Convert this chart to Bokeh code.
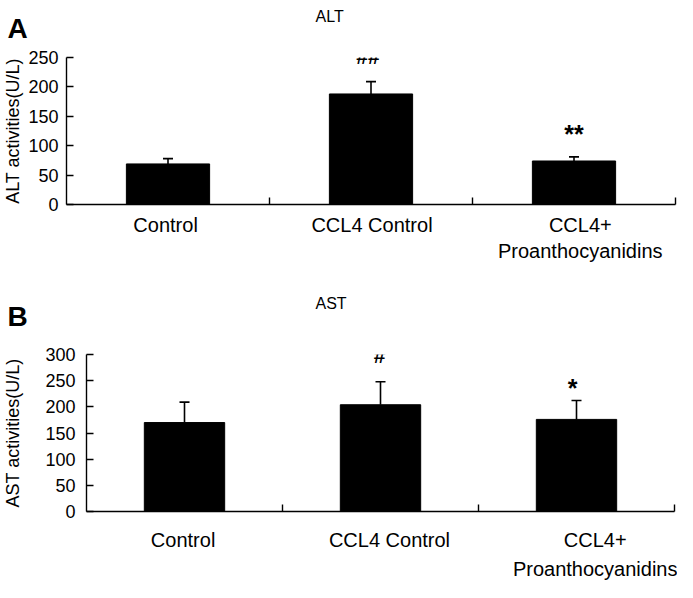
from bokeh.plotting import figure
from bokeh.models import (ColumnDataSource, Range1d, FixedTicker, Whisker, TeeHead,
                          LabelSet)
from bokeh.core.properties import value
from bokeh.embed import file_html
from bokeh.resources import INLINE

# ---------------- data ----------------
groups = ["Control", "CCL4 Control", "CCL4+\nProanthocyanidins"]
alt_mean = [69, 188, 74]
alt_err = [9, 21, 7]
alt_marks = ["", "##", "**"]
ast_mean = [170, 204, 176]
ast_err = [39, 44, 36]
ast_marks = ["", "#", "*"]
alt_ticks = [0, 50, 100, 150, 200, 250]
ast_ticks = [0, 50, 100, 150, 200, 250, 300]

FONT = "Liberation Sans"
WIDTH = 677


def header(letter, title, height, letter_base, title_x, title_base):
    h = figure(width=WIDTH, height=height, output_backend="svg", toolbar_location=None,
               x_range=Range1d(0, WIDTH), y_range=Range1d(height, 0),
               x_axis_type=None, y_axis_type=None, min_border=0)
    h.outline_line_color = None
    h.xgrid.visible = False
    h.ygrid.visible = False
    h.text(x=[17], y=[letter_base], text=[letter], text_font=value(FONT),
           text_font_size="28px", text_font_style="bold", text_baseline="alphabetic",
           text_align="center", text_color="black")
    h.text(x=[title_x], y=[title_base], text=[title], text_font=value(FONT),
           text_font_size="16px", text_baseline="alphabetic", text_color="black")
    return h


def panel(ylabel, means, errs, marks, yticks, *,
          height, border_left, border_right, border_top, border_bottom,
          tick_standoff, label_standoff, xlab_standoff, line_height,
          label_shift_px, mark_dy, mark_dx):
    frame_w = WIDTH - border_left - border_right
    n = len(groups)
    px_per_unit = frame_w / n
    xs = [i + 0.5 for i in range(n)]
    tops = [m + e for m, e in zip(means, errs)]

    p = figure(width=WIDTH, height=height, output_backend="svg", toolbar_location=None,
               x_range=Range1d(0, n), y_range=Range1d(yticks[0], yticks[-1]),
               min_border_left=border_left, min_border_right=border_right,
               min_border_top=border_top, min_border_bottom=border_bottom)
    p.outline_line_color = None
    p.xgrid.visible = False
    p.ygrid.visible = False

    src = ColumnDataSource(dict(x=xs, mean=means, top=tops))
    p.vbar(x="x", top="mean", bottom=0, width=0.41, source=src,
           fill_color="black", line_color="black")
    p.add_layout(Whisker(source=src, base="x", lower="mean", upper="top",
                         dimension="height", line_width=1.6, line_color="black",
                         lower_head=None,
                         upper_head=TeeHead(size=10, line_width=1.6, line_color="black")))

    # significance marks
    for sym, size, style in (("#", "21px", "bold"), ("*", "25px", "bold")):
        idx = [i for i, m in enumerate(marks) if m and sym in m]
        msrc = ColumnDataSource(dict(x=[xs[i] for i in idx], top=[tops[i] for i in idx],
                                     mark=[marks[i] for i in idx],
                                     dy=[mark_dy[i] for i in idx],
                                     dx=[mark_dx[i] for i in idx]))
        p.add_layout(LabelSet(source=msrc, x="x", y="top", text="mark",
                              x_offset="dx", y_offset="dy",
                              text_align="center", text_baseline="alphabetic",
                              text_font=value(FONT), text_font_size=value(size),
                              text_font_style=value(style), text_color="black"))

    # x axis: labels at category centres, tick marks between categories
    label_pos = [x + s / px_per_unit for x, s in zip(xs, label_shift_px)]
    xa = p.xaxis[0]
    xa.ticker = FixedTicker(ticks=label_pos, minor_ticks=list(range(1, n + 1)))
    xa.major_label_overrides = {lp: g for lp, g in zip(label_pos, groups)}
    xa.major_tick_line_color = None
    xa.minor_tick_line_color = "black"
    xa.minor_tick_in = 7
    xa.minor_tick_out = 0
    xa.minor_tick_line_width = 1.4
    xa.axis_line_width = 1.4
    xa.axis_line_color = "black"
    xa.major_label_text_font = FONT
    xa.major_label_text_font_size = "20px"
    xa.major_label_text_color = "black"
    xa.major_label_standoff = xlab_standoff
    xa.major_label_text_line_height = line_height

    ya = p.yaxis[0]
    ya.ticker = FixedTicker(ticks=yticks, minor_ticks=[])
    ya.major_tick_in = 7
    ya.major_tick_out = 0
    ya.major_tick_line_width = 1.4
    ya.axis_line_width = 1.4
    ya.axis_line_color = "black"
    ya.major_label_text_font = FONT
    ya.major_label_text_font_size = "18px"
    ya.major_label_text_color = "black"
    ya.major_label_standoff = tick_standoff
    ya.axis_label = ylabel
    ya.axis_label_text_font = FONT
    ya.axis_label_text_font_size = "18px"
    ya.axis_label_text_font_style = "normal"
    ya.axis_label_text_color = "black"
    ya.axis_label_standoff = label_standoff
    return p


hA = header("A", "ALT", height=40, letter_base=28, title_x=315, title_base=16)
pA = panel("ALT activities(U/L)", alt_mean, alt_err, alt_marks, alt_ticks,
           height=230, border_left=65, border_right=2, border_top=17, border_bottom=66,
           tick_standoff=8, label_standoff=2, xlab_standoff=3, line_height=1.2,
           label_shift_px=[-2.4, 1, 6.3], mark_dy=[0, 18, 14], mark_dx=[0, -3, 0])
hB = header("B", "AST", height=60, letter_base=46, title_x=315, title_base=33)
pB = panel("AST activities(U/L)", ast_mean, ast_err, ast_marks, ast_ticks,
           height=252, border_left=85, border_right=3, border_top=24, border_bottom=68,
           tick_standoff=11, label_standoff=19, xlab_standoff=11, line_height=1.33,
           label_shift_px=[-1.4, 9, 21], mark_dy=[0, 19, 4], mark_dx=[0, -1, -4])

open("out.html", "w").write(file_html([hA, pA, hB, pB], INLINE))
